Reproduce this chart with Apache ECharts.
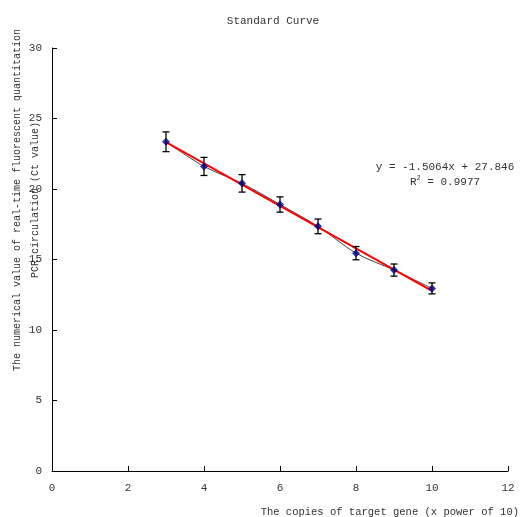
<!DOCTYPE html>
<html>
<head>
<meta charset="utf-8">
<script src="https://cdn.jsdelivr.net/npm/echarts@6/dist/echarts.min.js"></script>
<style>
html, body { margin: 0; padding: 0; background: #fff; }
#chart { width: 531px; height: 517px; }
</style>
</head>
<body>
<div id="chart"></div>
<script>
const copies = [3, 4, 5, 6, 7, 8, 9, 10]
const ctValues = [23.35, 21.6, 20.4, 18.9, 17.35, 15.45, 14.25, 12.95]
const ctError = [0.7, 0.64, 0.62, 0.54, 0.52, 0.47, 0.43, 0.39]
const trendX = [3, 10]
const trendY = [23.33, 12.78]
const xTicks = [0, 2, 4, 6, 8, 10, 12]
const yTicks = [0, 5, 10, 15, 20, 25, 30]

const font = '"Liberation Mono", monospace'
const textColor = '#333'

const chart = echarts.init(document.getElementById('chart'))

const option = {
  animation: false,
  backgroundColor: '#fff',
  title: {
    text: 'Standard Curve',
    left: 268,
    top: 11,
    textAlign: 'center',
    textStyle: { fontFamily: font, fontSize: 11, fontWeight: 'normal', color: textColor }
  },
  grid: { left: 52, right: 23, top: 48, bottom: 46 },
  xAxis: {
    type: 'value',
    min: 0,
    max: 12,
    interval: 2,
    axisLine: { lineStyle: { color: '#000', width: 1 } },
    axisTick: { inside: true, length: 5, lineStyle: { color: '#000' } },
    splitLine: { show: false },
    axisLabel: {
      margin: 12,
      fontFamily: font, fontSize: 11, color: textColor,
      formatter: v => xTicks.includes(v) ? String(v) : ''
    }
  },
  yAxis: {
    type: 'value',
    min: 0,
    max: 30,
    interval: 5,
    axisLine: { show: true, lineStyle: { color: '#000', width: 1 } },
    axisTick: { show: true, inside: true, length: 5, lineStyle: { color: '#000' } },
    splitLine: { show: false },
    axisLabel: {
      margin: 10,
      fontFamily: font, fontSize: 11, color: textColor,
      formatter: v => yTicks.includes(v) ? String(v) : ''
    }
  },
  graphic: [
    {
      type: 'text',
      x: 26, y: 200,
      rotation: Math.PI / 2,
      style: {
        text: 'The numerical value of real-time fluorescent quantitation\nPCR circulation (Ct value)',
        font: '10px ' + font,
        fill: textColor,
        align: 'center',
        verticalAlign: 'middle',
        lineHeight: 18
      }
    },
    {
      type: 'text',
      x: 519, y: 512,
      style: {
        text: 'The copies of target gene (x power of 10)',
        font: '10.5px ' + font,
        fill: textColor,
        align: 'right',
        verticalAlign: 'middle'
      }
    },
    {
      type: 'text',
      x: 445, y: 175,
      style: {
        text: 'y = -1.5064x + 27.846\nR{sup|2} = 0.9977',
        font: '11px ' + font,
        fill: textColor,
        align: 'center',
        verticalAlign: 'middle',
        lineHeight: 15,
        rich: {
          sup: { fontSize: 7, verticalAlign: 'top', fontFamily: font, fill: textColor }
        }
      }
    }
  ],
  series: [
    {
      type: 'line',
      data: copies.map((x, i) => [x, ctValues[i]]),
      smooth: 0.3,
      symbol: 'none',
      lineStyle: { color: '#444', width: 1 },
      z: 2
    },
    {
      type: 'line',
      data: trendX.map((x, i) => [x, trendY[i]]),
      symbol: 'none',
      lineStyle: { color: '#ff0000', width: 2 },
      z: 3
    },
    {
      type: 'custom',
      data: copies.map((x, i) => [x, ctValues[i] - ctError[i], ctValues[i] + ctError[i]]),
      renderItem: function (params, api) {
        const lo = api.coord([api.value(0), api.value(1)])
        const hi = api.coord([api.value(0), api.value(2)])
        const cap = 3.5
        const style = { stroke: '#000', lineWidth: 1.3 }
        return {
          type: 'group',
          children: [
            { type: 'line', shape: { x1: lo[0], y1: lo[1], x2: hi[0], y2: hi[1] }, style },
            { type: 'line', shape: { x1: lo[0] - cap, y1: lo[1], x2: lo[0] + cap, y2: lo[1] }, style },
            { type: 'line', shape: { x1: hi[0] - cap, y1: hi[1], x2: hi[0] + cap, y2: hi[1] }, style }
          ]
        }
      },
      z: 4
    },
    {
      type: 'scatter',
      data: copies.map((x, i) => [x, ctValues[i]]),
      symbol: 'diamond',
      symbolSize: 8,
      itemStyle: { color: '#000080' },
      z: 5
    }
  ]
}

chart.setOption(option)
</script>
</body>
</html>
